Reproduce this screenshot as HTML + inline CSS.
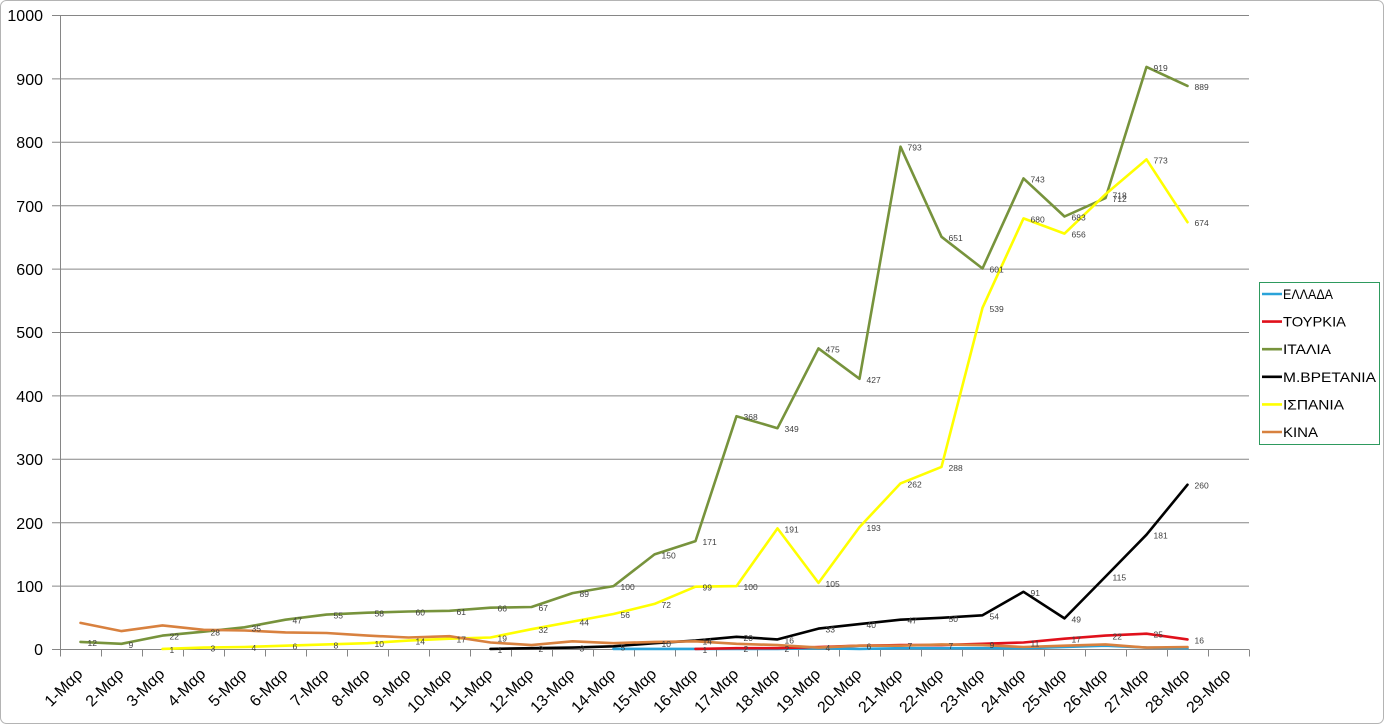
<!DOCTYPE html>
<html><head><meta charset="utf-8"><style>
html,body{margin:0;padding:0;background:#fff;}
svg{display:block;}
.ax{font-family:"Liberation Sans",sans-serif;font-size:16px;fill:#000;}
.lb{font-family:"Liberation Sans",sans-serif;font-size:8.5px;fill:#404040;}
.lg{font-family:"Liberation Sans",sans-serif;font-size:14px;fill:#000;}
</style></head><body>
<svg width="1384" height="724" viewBox="0 0 1384 724" xmlns="http://www.w3.org/2000/svg">
<rect x="0.5" y="0.5" width="1383" height="723" rx="6" fill="#fff" stroke="#b4b4b4"/>
<g stroke="#868686" stroke-width="1" fill="none">
<line x1="52" y1="15.5" x2="1249" y2="15.5"/>
<line x1="52" y1="78.9" x2="1249" y2="78.9"/>
<line x1="52" y1="142.3" x2="1249" y2="142.3"/>
<line x1="52" y1="205.7" x2="1249" y2="205.7"/>
<line x1="52" y1="269.1" x2="1249" y2="269.1"/>
<line x1="52" y1="332.5" x2="1249" y2="332.5"/>
<line x1="52" y1="395.9" x2="1249" y2="395.9"/>
<line x1="52" y1="459.3" x2="1249" y2="459.3"/>
<line x1="52" y1="522.7" x2="1249" y2="522.7"/>
<line x1="52" y1="586.1" x2="1249" y2="586.1"/>
<line x1="52" y1="649.5" x2="1249" y2="649.5"/>
<line x1="60.5" y1="15.5" x2="60.5" y2="649.5"/>
<path d="M60.5 649.5v7M101.5 649.5v7M142.5 649.5v7M183.5 649.5v7M224.5 649.5v7M265.5 649.5v7M306.5 649.5v7M347.5 649.5v7M388.5 649.5v7M429.5 649.5v7M470.5 649.5v7M511.5 649.5v7M552.5 649.5v7M593.5 649.5v7M634.5 649.5v7M675.5 649.5v7M716.5 649.5v7M757.5 649.5v7M798.5 649.5v7M839.5 649.5v7M880.5 649.5v7M921.5 649.5v7M962.5 649.5v7M1003.5 649.5v7M1044.5 649.5v7M1085.5 649.5v7M1126.5 649.5v7M1167.5 649.5v7M1208.5 649.5v7M1249.5 649.5v7"/>
</g>
<g class="ax" text-anchor="end">
<text x="43" y="21">1000</text>
<text x="43" y="85">900</text>
<text x="43" y="148">800</text>
<text x="43" y="212">700</text>
<text x="43" y="275">600</text>
<text x="43" y="338">500</text>
<text x="43" y="402">400</text>
<text x="43" y="465">300</text>
<text x="43" y="529">200</text>
<text x="43" y="592">100</text>
<text x="43" y="655">0</text>
</g>
<g class="ax" text-anchor="end">
<text transform="translate(83.5,675) rotate(-45)">1-Μαρ</text>
<text transform="translate(124.5,675) rotate(-45)">2-Μαρ</text>
<text transform="translate(165.5,675) rotate(-45)">3-Μαρ</text>
<text transform="translate(206.5,675) rotate(-45)">4-Μαρ</text>
<text transform="translate(247.5,675) rotate(-45)">5-Μαρ</text>
<text transform="translate(288.5,675) rotate(-45)">6-Μαρ</text>
<text transform="translate(329.5,675) rotate(-45)">7-Μαρ</text>
<text transform="translate(370.5,675) rotate(-45)">8-Μαρ</text>
<text transform="translate(411.5,675) rotate(-45)">9-Μαρ</text>
<text transform="translate(452.5,675) rotate(-45)">10-Μαρ</text>
<text transform="translate(493.5,675) rotate(-45)">11-Μαρ</text>
<text transform="translate(534.5,675) rotate(-45)">12-Μαρ</text>
<text transform="translate(575.5,675) rotate(-45)">13-Μαρ</text>
<text transform="translate(616.5,675) rotate(-45)">14-Μαρ</text>
<text transform="translate(657.5,675) rotate(-45)">15-Μαρ</text>
<text transform="translate(698.5,675) rotate(-45)">16-Μαρ</text>
<text transform="translate(739.5,675) rotate(-45)">17-Μαρ</text>
<text transform="translate(780.5,675) rotate(-45)">18-Μαρ</text>
<text transform="translate(821.5,675) rotate(-45)">19-Μαρ</text>
<text transform="translate(862.5,675) rotate(-45)">20-Μαρ</text>
<text transform="translate(903.5,675) rotate(-45)">21-Μαρ</text>
<text transform="translate(944.5,675) rotate(-45)">22-Μαρ</text>
<text transform="translate(985.5,675) rotate(-45)">23-Μαρ</text>
<text transform="translate(1026.5,675) rotate(-45)">24-Μαρ</text>
<text transform="translate(1067.5,675) rotate(-45)">25-Μαρ</text>
<text transform="translate(1108.5,675) rotate(-45)">26-Μαρ</text>
<text transform="translate(1149.5,675) rotate(-45)">27-Μαρ</text>
<text transform="translate(1190.5,675) rotate(-45)">28-Μαρ</text>
<text transform="translate(1231.5,675) rotate(-45)">29-Μαρ</text>
</g>
<g fill="none" stroke-width="2.6" stroke-linejoin="round" stroke-linecap="round">
<polyline stroke="#2AA3D9" points="613.5,648.9 654.5,648.9 695.5,648.9 736.5,648.9 777.5,648.9 818.5,648.2 859.5,648.9 900.5,648.2 941.5,648.2 982.5,648.2 1023.5,648.2 1064.5,647.0 1105.5,645.7 1146.5,647.6 1187.5,648.2"/>
<polyline stroke="#E0101B" points="695.5,648.9 736.5,648.2 777.5,648.2 818.5,647.0 859.5,645.7 900.5,645.1 941.5,645.1 982.5,643.8 1023.5,642.5 1064.5,638.7 1105.5,635.6 1146.5,633.7 1187.5,639.4"/>
<polyline stroke="#77933C" points="80.5,641.9 121.5,643.8 162.5,635.6 203.5,631.7 244.5,627.3 285.5,619.7 326.5,614.6 367.5,612.7 408.5,611.5 449.5,610.8 490.5,607.7 531.5,607.0 572.5,593.1 613.5,586.1 654.5,554.4 695.5,541.1 736.5,416.2 777.5,428.2 818.5,348.4 859.5,378.8 900.5,146.7 941.5,236.8 982.5,268.5 1023.5,178.4 1064.5,216.5 1105.5,198.1 1146.5,66.9 1187.5,85.9"/>
<polyline stroke="#000000" points="490.5,648.9 531.5,648.2 572.5,647.6 613.5,646.3 654.5,643.2 695.5,640.6 736.5,636.8 777.5,639.4 818.5,628.6 859.5,624.1 900.5,619.7 941.5,617.8 982.5,615.3 1023.5,591.8 1064.5,618.4 1105.5,576.6 1146.5,534.7 1187.5,484.7"/>
<polyline stroke="#FFFF00" points="162.5,648.9 203.5,647.6 244.5,647.0 285.5,645.7 326.5,644.4 367.5,643.2 408.5,640.6 449.5,638.7 490.5,637.5 531.5,629.2 572.5,621.6 613.5,614.0 654.5,603.9 695.5,586.7 736.5,586.1 777.5,528.4 818.5,582.9 859.5,527.1 900.5,483.4 941.5,466.9 982.5,307.8 1023.5,218.4 1064.5,233.6 1105.5,194.3 1146.5,159.4 1187.5,222.2"/>
<polyline stroke="#D8813F" points="80.5,622.9 121.5,631.1 162.5,625.4 203.5,629.8 244.5,630.5 285.5,632.4 326.5,633.0 367.5,635.6 408.5,637.5 449.5,636.2 490.5,642.5 531.5,645.1 572.5,641.3 613.5,643.2 654.5,641.9 695.5,641.3 736.5,643.8 777.5,645.1 818.5,647.6 859.5,645.7 900.5,645.7 941.5,644.4 982.5,645.1 1023.5,647.0 1064.5,645.7 1105.5,644.4 1146.5,647.6 1187.5,647.0"/>
</g>
<g class="lb">
<text x="87.5" y="645.9">12</text><text x="128.5" y="647.8">9</text><text x="169.5" y="639.6">22</text><text x="210.5" y="635.7">28</text><text x="251.5" y="631.3">35</text><text x="292.5" y="623.7">47</text><text x="333.5" y="618.6">55</text><text x="374.5" y="616.7">58</text><text x="415.5" y="615.5">60</text><text x="456.5" y="614.8">61</text><text x="497.5" y="611.7">66</text><text x="538.5" y="611.0">67</text><text x="579.5" y="597.1">89</text><text x="620.5" y="590.1">100</text><text x="661.5" y="558.4">150</text><text x="702.5" y="545.1">171</text><text x="743.5" y="420.2">368</text><text x="784.5" y="432.2">349</text><text x="825.5" y="352.4">475</text><text x="866.5" y="382.8">427</text><text x="907.5" y="150.7">793</text><text x="948.5" y="240.8">651</text><text x="989.5" y="272.5">601</text><text x="1030.5" y="182.4">743</text><text x="1071.5" y="220.5">683</text><text x="1112.5" y="202.1">712</text><text x="1153.5" y="70.9">919</text><text x="1194.5" y="89.9">889</text>
<text x="169.5" y="652.9">1</text><text x="210.5" y="651.6">3</text><text x="251.5" y="651.0">4</text><text x="292.5" y="649.7">6</text><text x="333.5" y="648.4">8</text><text x="374.5" y="647.2">10</text><text x="415.5" y="644.6">14</text><text x="456.5" y="642.7">17</text><text x="497.5" y="641.5">19</text><text x="538.5" y="633.2">32</text><text x="579.5" y="625.6">44</text><text x="620.5" y="618.0">56</text><text x="661.5" y="607.9">72</text><text x="702.5" y="590.7">99</text><text x="743.5" y="590.1">100</text><text x="784.5" y="532.4">191</text><text x="825.5" y="586.9">105</text><text x="866.5" y="531.1">193</text><text x="907.5" y="487.4">262</text><text x="948.5" y="470.9">288</text><text x="989.5" y="311.8">539</text><text x="1030.5" y="222.4">680</text><text x="1071.5" y="237.6">656</text><text x="1112.5" y="198.3">718</text><text x="1153.5" y="163.4">773</text><text x="1194.5" y="226.2">674</text>
<text x="497.5" y="652.9">1</text><text x="538.5" y="652.2">2</text><text x="579.5" y="651.6">3</text><text x="620.5" y="650.3">5</text><text x="661.5" y="647.2">10</text><text x="702.5" y="644.6">14</text><text x="743.5" y="640.8">20</text><text x="784.5" y="643.4">16</text><text x="825.5" y="632.6">33</text><text x="866.5" y="628.1">40</text><text x="907.5" y="623.7">47</text><text x="948.5" y="621.8">50</text><text x="989.5" y="619.3">54</text><text x="1030.5" y="595.8">91</text><text x="1071.5" y="622.4">49</text><text x="1112.5" y="580.6">115</text><text x="1153.5" y="538.7">181</text><text x="1194.5" y="488.7">260</text>
<text x="702.5" y="652.9">1</text><text x="743.5" y="652.2">2</text><text x="784.5" y="652.2">2</text><text x="825.5" y="651.0">4</text><text x="866.5" y="649.7">6</text><text x="907.5" y="649.1">7</text><text x="948.5" y="649.1">7</text><text x="989.5" y="647.8">9</text><text x="1030.5" y="646.5">11</text><text x="1071.5" y="642.7">17</text><text x="1112.5" y="639.6">22</text><text x="1153.5" y="637.7">25</text><text x="1194.5" y="643.4">16</text>
</g>
<rect x="1259.5" y="282.5" width="120" height="162" fill="#fff" stroke="#2E9A5E" stroke-width="1"/>
<g stroke-width="2.6">
<line x1="1262" y1="294" x2="1282" y2="294" stroke="#2AA3D9"/>
<line x1="1262" y1="321.6" x2="1282" y2="321.6" stroke="#E0101B"/>
<line x1="1262" y1="349.2" x2="1282" y2="349.2" stroke="#77933C"/>
<line x1="1262" y1="376.8" x2="1282" y2="376.8" stroke="#000000"/>
<line x1="1262" y1="404.4" x2="1282" y2="404.4" stroke="#FFFF00"/>
<line x1="1262" y1="432" x2="1282" y2="432" stroke="#D8813F"/>
</g>
<g class="lg">
<text x="1283" y="299" textLength="50" lengthAdjust="spacingAndGlyphs">ΕΛΛΑΔΑ</text>
<text x="1283" y="326.6" textLength="63" lengthAdjust="spacingAndGlyphs">ΤΟΥΡΚΙΑ</text>
<text x="1283" y="354.2" textLength="48" lengthAdjust="spacingAndGlyphs">ΙΤΑΛΙΑ</text>
<text x="1283" y="381.8" textLength="93" lengthAdjust="spacingAndGlyphs">Μ.ΒΡΕΤΑΝΙΑ</text>
<text x="1283" y="409.4" textLength="61" lengthAdjust="spacingAndGlyphs">ΙΣΠΑΝΙΑ</text>
<text x="1283" y="437" textLength="35" lengthAdjust="spacingAndGlyphs">ΚΙΝΑ</text>
</g>
</svg>
</body></html>
